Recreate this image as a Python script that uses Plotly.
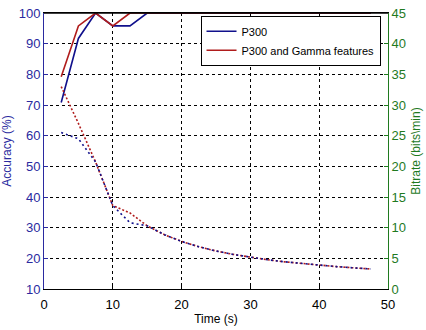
import plotly.graph_objects as go

# Time windows (s)
time_s = [2.5, 5, 7.5, 10, 12.5, 15, 17.5, 20, 22.5, 25, 27.5, 30,
          32.5, 35, 37.5, 40, 42.5, 45, 47.5]

# Classification accuracy (%)
acc_p300 = [70.8, 91.7, 100, 95.8, 95.8, 100, 100, 100, 100, 100, 100, 100,
            100, 100, 100, 100, 100, 100, 100]
acc_gamma = [79.2, 95.8, 100, 95.8, 100, 100, 100, 100, 100, 100, 100, 100,
             100, 100, 100, 100, 100, 100, 100]

# Bitrate (bits/min)
bit_p300 = [25.5, 24.5, 20.7, 13.6, 10.8, 10.3, 8.86, 7.75, 6.89, 6.2, 5.64,
            5.17, 4.77, 4.43, 4.14, 3.88, 3.65, 3.45, 3.27]
bit_gamma = [33.0, 27.0, 20.7, 13.6, 12.4, 10.3, 8.86, 7.75, 6.89, 6.2, 5.64,
             5.17, 4.77, 4.43, 4.14, 3.88, 3.65, 3.45, 3.27]

BLUE = "#10108c"
RED = "#b01c1c"
AX_BLUE = "#2a2aa0"
AX_GREEN = "#1f7a1f"
FONT = "Liberation Sans, Arial, sans-serif"

fig = go.Figure()
fig.add_trace(go.Scatter(x=time_s, y=acc_p300, mode="lines", name="P300",
                         line=dict(color=BLUE, width=1.6)))
fig.add_trace(go.Scatter(x=time_s, y=acc_gamma, mode="lines",
                         name="P300 and Gamma features",
                         line=dict(color=RED, width=1.6)))
fig.add_trace(go.Scatter(x=time_s, y=bit_gamma, mode="lines", yaxis="y2",
                         showlegend=False,
                         line=dict(color=RED, width=1.6, dash="2px,2px")))
fig.add_trace(go.Scatter(x=time_s, y=bit_p300, mode="lines", yaxis="y2",
                         showlegend=False,
                         line=dict(color=BLUE, width=1.6, dash="2px,3px")))

grid = dict(showgrid=True, gridcolor="black", gridwidth=1, griddash="3px,3px")

fig.update_layout(
    width=426, height=330,
    margin=dict(l=43, r=34, t=6, b=35),
    paper_bgcolor="white", plot_bgcolor="white",
    font=dict(family=FONT, size=12, color="black"),
    xaxis=dict(range=[0, 50], tickvals=[0, 10, 20, 30, 40, 50],
               ticks="inside", ticklen=4, tickcolor="black",
               showline=True, linecolor="black", linewidth=1, mirror=True,
               zeroline=False, ticklabeloverflow="allow", ticklabelstandoff=3,
               title=dict(text="Time (s)", standoff=4,
                          font=dict(size=12, color="black")),
               tickfont=dict(size=13, color="black"), **grid),
    yaxis=dict(range=[10, 100], tickvals=list(range(10, 101, 10)),
               ticks="inside", ticklen=4, tickcolor=AX_BLUE,
               showline=True, linecolor=AX_BLUE, linewidth=1,
               zeroline=False, ticklabeloverflow="allow",
               title=dict(text="Accuracy (%)", standoff=4,
                          font=dict(size=12, color=AX_BLUE)),
               tickfont=dict(size=13, color=AX_BLUE), **grid),
    yaxis2=dict(range=[0, 45], tickvals=list(range(0, 46, 5)),
                overlaying="y", side="right",
                ticks="inside", ticklen=4, tickcolor=AX_GREEN,
                showline=True, linecolor=AX_GREEN, linewidth=1,
                showgrid=False, zeroline=False, ticklabeloverflow="allow",
                title=dict(text="Bitrate (bits\\min)", standoff=6,
                           font=dict(size=12, color=AX_GREEN)),
                tickfont=dict(size=13, color=AX_GREEN)),
    legend=dict(x=0.455, y=0.99, xanchor="left", yanchor="top",
                bgcolor="white", bordercolor="black", borderwidth=1,
                font=dict(size=11, color="black"),
                tracegroupgap=0, itemwidth=30),
    showlegend=True,
    # black frame edge along the top of the axes box, kept above the curves
    shapes=[dict(type="line", xref="paper", yref="paper", x0=0, x1=1,
                 y0=1, y1=1, line=dict(color="black", width=1.5),
                 layer="above")],
)

fig.write_html("out.html")
